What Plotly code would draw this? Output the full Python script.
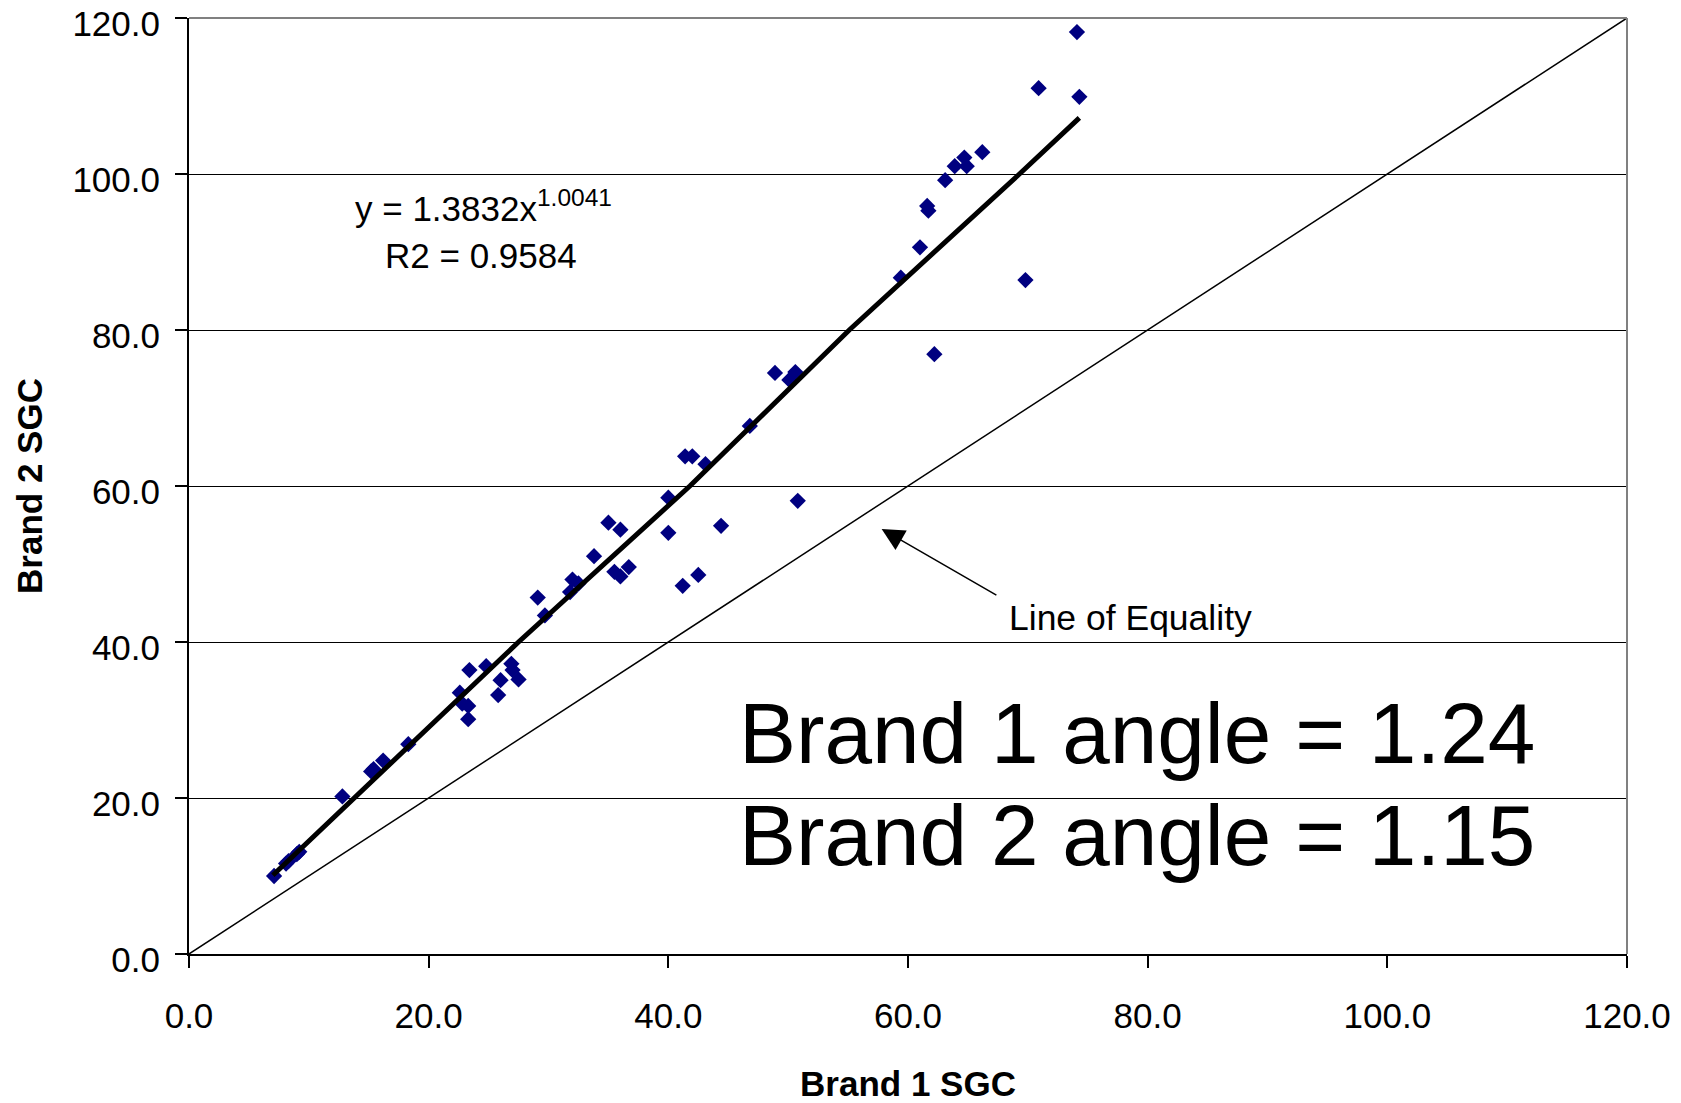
import plotly.graph_objects as go

# Scatter data (Brand 1 SGC vs Brand 2 SGC)
brand1_sgc = [7.1, 8.1, 8.3, 9.0, 9.2, 12.8, 15.2, 15.4, 16.2, 18.3,
              22.6, 22.8, 23.3, 23.3, 23.4, 24.8, 25.8, 26.0, 26.9, 27.0,
              27.5, 29.1, 29.7, 31.8, 32.0, 32.5, 33.8, 35.0, 35.5, 36.0,
              36.0, 36.7, 40.0, 40.0, 41.2, 41.4, 42.0, 42.5, 43.1, 44.4,
              46.8, 48.9, 50.1, 50.6, 50.8, 59.4, 61.0, 61.6, 61.7, 62.2,
              63.1, 63.9, 64.7, 64.9, 66.2, 69.8, 70.9, 74.1, 74.3]
brand2_sgc = [10.0, 11.6, 11.9, 12.8, 13.1, 20.2, 23.4, 23.7, 24.8, 26.9,
              33.5, 32.1, 31.8, 30.1, 36.4, 36.9, 33.2, 35.1, 37.2, 36.4,
              35.2, 45.7, 43.4, 46.4, 48.0, 47.5, 51.0, 55.3, 49.0, 54.4,
              48.4, 49.6, 58.5, 54.0, 47.2, 63.8, 63.8, 48.6, 62.8, 54.9,
              67.7, 74.5, 73.6, 74.6, 58.1, 86.7, 90.6, 95.9, 95.3, 76.9,
              99.2, 101.0, 102.1, 101.0, 102.8, 86.4, 111.0, 118.2, 109.9]

# Power trend line as drawn
trend_x = [7.0, 13.8, 27.5, 41.8, 55.1, 69.3, 74.3]
trend_y = [10.1, 20.0, 40.0, 60.0, 80.0, 100.0, 107.2]

# Line of equality
equality_x = [0.0, 120.0]
equality_y = [0.0, 120.0]

tick_vals = [0, 20, 40, 60, 80, 100, 120]

FONT = "Liberation Sans, Arial, sans-serif"

fig = go.Figure()

fig.add_trace(go.Scatter(x=equality_x, y=equality_y, mode="lines",
                         line=dict(color="black", width=1.5),
                         showlegend=False, hoverinfo="skip"))
fig.add_trace(go.Scatter(x=brand1_sgc, y=brand2_sgc, mode="markers",
                         marker=dict(symbol="diamond", size=12.5, color="#000080",
                                     line=dict(width=0)),
                         showlegend=False))
fig.add_trace(go.Scatter(x=trend_x, y=trend_y, mode="lines",
                         line=dict(color="black", width=5),
                         showlegend=False, hoverinfo="skip"))

axis_common = dict(
    range=[0, 120], tickvals=tick_vals, tickformat=".1f",
    ticks="outside", ticklen=12, tickwidth=2, tickcolor="black",
    showline=True, linecolor="black", linewidth=2,
    zeroline=False, ticklabeloverflow="allow", automargin=False,
    tickfont=dict(family=FONT, size=35, color="black"),
)

fig.update_xaxes(**axis_common, showgrid=False, ticklabelstandoff=18,
                 title=dict(text="<b>Brand 1 SGC</b>", standoff=42,
                            font=dict(family=FONT, size=35, color="black")))
fig.update_yaxes(**axis_common, showgrid=True, gridcolor="black", gridwidth=1,
                 ticklabelstandoff=8, ticklabelshift=6,
                 title=dict(text="<b>Brand 2 SGC</b>", standoff=19,
                            font=dict(family=FONT, size=35, color="black")))

# gray top/right border
fig.add_shape(type="line", xref="paper", yref="paper", x0=0, x1=1, y0=1, y1=1,
              line=dict(color="#808080", width=2), layer="above")
fig.add_shape(type="line", xref="paper", yref="paper", x0=1, x1=1, y0=0, y1=1,
              line=dict(color="#808080", width=2), layer="above")

annotations = [
    dict(x=13.7, y=95.9, xref="x", yref="y", xanchor="left", yanchor="middle",
         text="y = 1.3832x<sup>1.0041</sup>", showarrow=False,
         font=dict(family=FONT, size=35, color="black")),
    dict(x=16.2, y=89.6, xref="x", yref="y", xanchor="left", yanchor="middle",
         text="R2 = 0.9584", showarrow=False,
         font=dict(family=FONT, size=35, color="black")),
    dict(x=78.6, y=43.1, xref="x", yref="y", xanchor="center", yanchor="middle",
         text="Line of Equality", showarrow=False,
         font=dict(family=FONT, size=35.5, color="black")),
    dict(x=57.8, y=54.5, xref="x", yref="y", ax=67.5, ay=45.9, axref="x", ayref="y",
         text="", showarrow=True, arrowhead=2, arrowsize=3, arrowwidth=1.5,
         arrowcolor="black"),
    dict(x=45.7, y=28.3, xref="x", yref="y", xanchor="left", yanchor="middle",
         text="Brand 1 angle = 1.24", showarrow=False,
         font=dict(family=FONT, size=85.5, color="black")),
    dict(x=45.7, y=15.2, xref="x", yref="y", xanchor="left", yanchor="middle",
         text="Brand 2 angle = 1.15", showarrow=False,
         font=dict(family=FONT, size=85.5, color="black")),
]

fig.update_layout(
    width=1681, height=1103,
    margin=dict(l=189, r=54, t=18, b=149, autoexpand=False),
    paper_bgcolor="white", plot_bgcolor="white",
    annotations=annotations,
    font=dict(family=FONT, color="black"),
)

fig.write_html("out.html")
